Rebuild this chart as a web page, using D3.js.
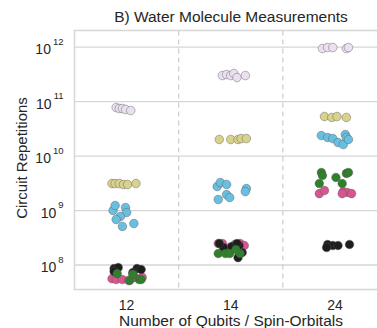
<!DOCTYPE html>
<html>
<head>
<meta charset="utf-8">
<script src="https://cdn.jsdelivr.net/npm/d3@7"></script>
<style>
  body { margin: 0; background: #fff; }
  text { font-family: "Liberation Sans", Arial, sans-serif; fill: #262626; }
</style>
</head>
<body>
<div id="chart"></div>
<script>
// categories on the x axis
var categories = ['12', '14', '24'];
var yTicks = [1e8, 1e9, 1e10, 1e11, 1e12];

// one value list per category for each series
var lavender = [
  [7.6e10, 7.3e10, 7.3e10, 7.0e10, 6.7e10],
  [2.94e11, 3.06e11, 2.94e11, 3.2e11, 2.7e11, 2.94e11],
  [9.2e11, 9.6e11, 9.6e11, 9.2e11, 9.6e11]
];
var khaki = [
  [3.06e9, 3.06e9, 3.06e9, 2.94e9, 2.94e9, 3.06e9],
  [1.97e10, 1.97e10, 1.97e10, 2.05e10, 2.05e10],
  [5.2e10, 5.0e10, 5.2e10, 5.0e10]
];
var blue = [
  [9.8e8, 1.21e9, 1.11e9, 9.0e8, 7.6e8, 6.7e8, 5.0e8, 5.65e8],
  [2.7e9, 3.2e9, 2.94e9, 1.56e9, 1.92e9, 1.7e9, 2.48e9, 2.18e9],
  [2.33e10, 2.14e10, 2.05e10, 1.73e10, 1.59e10, 2.43e10, 2.14e10, 1.97e10]
];
var black = [
  [8.45e7, 8.8e7, 8.45e7, 8.1e7, 7.1e7, 7.45e7],
  [2.05e8, 2.14e8, 2.23e8, 1.66e8, 1.34e8, 2.43e8, 2.43e8],
  [2.33e8, 2.23e8, 2.23e8, 2.05e8, 2.33e8]
];
var pink = [
  [5.5e7, 5.3e7, 5.3e7, 5.1e7, 5.8e7, 5.8e7],
  [2.43e8, 2.43e8, 2.33e8, 2.43e8, 2.23e8, 2.05e8],
  [2.0e9, 2.28e9, 2.18e9, 2.1e9, 2.0e9, 2.0e9]
];
var green = [
  [6.8e7, 5.1e7, 5.3e7, 5.3e7, 6.6e7],
  [1.59e8, 1.59e8, 1.59e8, 1.59e8, 1.88e8],
  [4.88e9, 4.3e9, 3.95e9, 4.7e9, 4.88e9, 3.06e9, 3.06e9]
];

// strip jitter, as a fraction of the category width
var lavenderJit = [
  [-0.10, -0.07, -0.04, -0.01, 0.04],
  [-0.08, -0.04, 0, 0.03, 0.06, 0.14],
  [-0.12, -0.07, -0.02, 0.11, 0.13]
];
var khakiJit = [
  [-0.14, -0.11, -0.07, -0.03, 0.01, 0.09],
  [-0.11, 0, 0.07, 0.10, 0.15],
  [-0.10, -0.03, 0.02, 0.11]
];
var blueJit = [
  [-0.13, -0.11, -0.01, 0, -0.06, -0.10, -0.04, 0.07],
  [-0.13, -0.10, -0.04, -0.12, -0.04, -0.01, 0.15, 0.14],
  [-0.13, -0.07, -0.02, 0.03, 0.08, 0.10, 0.11, 0.13]
];
var blackJit = [
  [-0.12, -0.08, 0.10, 0.14, 0.06, -0.12],
  [-0.07, 0.01, 0.08, 0.11, 0.07, -0.11, 0.06],
  [-0.07, -0.02, 0.03, -0.08, 0.14]
];
var pinkJit = [
  [-0.14, -0.10, -0.04, 0.02, 0.08, 0.15],
  [-0.12, -0.08, 0.04, 0.09, 0.13, -0.01],
  [-0.15, -0.10, 0.08, 0.12, 0.16, 0.07]
];
var greenJit = [
  [-0.09, 0.03, 0.12, 0.14, 0.06],
  [-0.12, -0.05, -0.01, 0.09, 0.05],
  [-0.13, -0.12, 0.01, 0.11, 0.13, -0.15, 0.07]
];

var series = [
  {vals: lavender, jit: lavenderJit, color: '#ebe0f0'},
  {vals: khaki, jit: khakiJit, color: '#d8d28c'},
  {vals: blue, jit: blueJit, color: '#68bfe0'},
  {vals: pink, jit: pinkJit, color: '#d7568f'},
  {vals: black, jit: blackJit, color: '#1e1e1e'},
  {vals: green, jit: greenJit, color: '#2f7f2c'}
];

var width = 377, height = 328;
var plotLeft = 74.5, plotTop = 30.5, plotBottom = 289.5, plotRight = 387;

var svg = d3.select('#chart').append('svg')
  .attr('width', width)
  .attr('height', height);

var x = d3.scaleBand().domain(categories).range([plotLeft, plotRight]);
var y = d3.scaleLog().domain([3.48e7, 1.97e12]).range([plotBottom, plotTop]);

// horizontal grid + y tick labels
var yAxis = svg.append('g')
  .attr('transform', 'translate(' + plotLeft + ',0)')
  .call(d3.axisLeft(y).tickValues(yTicks).tickSize(-(plotRight - plotLeft)).tickPadding(11).tickFormat(''));
yAxis.select('.domain').remove();
yAxis.selectAll('.tick line').attr('stroke', '#d6d6d6').attr('stroke-width', 1.3);
yAxis.selectAll('.tick text').each(function(d) {
  var t = d3.select(this);
  t.text(null).attr('font-size', 14).attr('fill', '#262626').attr('dy', '0.5em');
  t.append('tspan').text('10');
  t.append('tspan').text(Math.round(Math.log10(d)))
    .attr('font-size', 9.5).attr('dy', '-1em').attr('dx', 2);
});

// dashed separators between categories
svg.append('g').selectAll('line').data(categories.slice(1)).enter()
  .append('line')
  .attr('x1', function(d) { return x(d); })
  .attr('x2', function(d) { return x(d); })
  .attr('y1', plotTop).attr('y2', plotBottom)
  .attr('stroke', '#d0d0d0')
  .attr('stroke-width', 1.3)
  .attr('stroke-dasharray', '5,4');

// frame
svg.append('path')
  .attr('d', 'M' + plotRight + ',' + plotTop + 'H' + plotLeft + 'V' + plotBottom + 'H' + plotRight)
  .attr('fill', 'none')
  .attr('stroke', '#d6d6d6')
  .attr('stroke-width', 1.5);

// x tick labels
var xAxis = svg.append('g')
  .attr('transform', 'translate(0,' + plotBottom + ')')
  .call(d3.axisBottom(x).tickSize(0).tickPadding(11));
xAxis.select('.domain').remove();
xAxis.selectAll('text').attr('font-size', 14).attr('fill', '#262626');

// points
series.forEach(function(s) {
  var pts = [];
  categories.forEach(function(c, ci) {
    s.vals[ci].forEach(function(v, i) {
      pts.push({cat: c, v: v, j: s.jit[ci][i]});
    });
  });
  svg.append('g').selectAll('circle').data(pts).enter()
    .append('circle')
    .attr('cx', function(d) { return x(d.cat) + x.bandwidth() * (0.5 + d.j); })
    .attr('cy', function(d) { return y(d.v); })
    .attr('r', 4.3)
    .attr('fill', s.color)
    .attr('stroke', '#555')
    .attr('stroke-opacity', 0.7)
    .attr('stroke-width', 0.6);
});

// titles
svg.append('text')
  .attr('x', 231).attr('y', 22)
  .attr('text-anchor', 'middle')
  .attr('font-size', 15.5)
  .text('B) Water Molecule Measurements');

svg.append('text')
  .attr('x', 231).attr('y', 326)
  .attr('text-anchor', 'middle')
  .attr('font-size', 15.5)
  .text('Number of Qubits / Spin-Orbitals');

svg.append('text')
  .attr('transform', 'translate(27,' + ((plotTop + plotBottom) / 2 - 2) + ') rotate(-90)')
  .attr('text-anchor', 'middle')
  .attr('font-size', 15)
  .text('Circuit Repetitions');
</script>
</body>
</html>
